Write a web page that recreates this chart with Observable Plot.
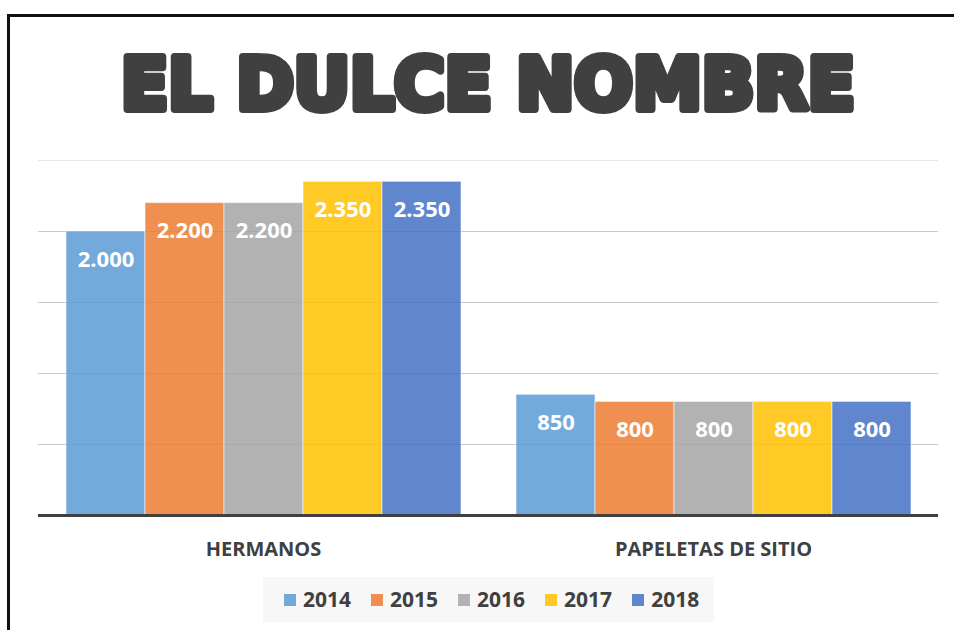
<!DOCTYPE html>
<html>
<head>
<meta charset="utf-8">
<script src="https://cdn.jsdelivr.net/npm/d3@7"></script>
<script src="https://cdn.jsdelivr.net/npm/@observablehq/plot@0.6"></script>
<style>
  html, body { margin: 0; padding: 0; background: #fff; overflow: hidden; }
  #root { position: relative; width: 954px; height: 630px; overflow: hidden; font-family: "Open Sans", sans-serif; }
  #frame { position: absolute; left: 7px; top: 14px; width: 960px; height: 630px; border-left: 3px solid #111; border-top: 3px solid #111; box-sizing: border-box; }
  #title { position: absolute; left: 0; top: 0; }
  #chart { position: absolute; left: 0; top: 130px; }
  #legend { position: absolute; left: 263px; top: 577px; width: 451px; height: 45px; background: #f7f7f7;
            display: flex; align-items: center; padding-left: 21px; box-sizing: border-box; gap: 20px; }
  .item { display: flex; align-items: center; gap: 7px; font-weight: 700; font-size: 21px; color: #404040; line-height: 1; }
  .sw { width: 12px; height: 12px; display: inline-block; }
</style>
</head>
<body>
<div id="root">
  <div id="frame"></div>
  <svg id="title" width="954" height="130">
    <text id="titleText" x="121" y="109" fill="#404040" stroke="#404040" stroke-width="8" stroke-linejoin="round"
          font-family="DejaVu Sans" font-weight="bold" font-size="72" textLength="734" lengthAdjust="spacingAndGlyphs">EL DULCE NOMBRE</text>
  </svg>
  <div id="chart"></div>
  <div id="legend"></div>
</div>
<script>
const categories = ["HERMANOS", "PAPELETAS DE SITIO"];
const years = ["2014", "2015", "2016", "2017", "2018"];
const hermanos = [2000, 2200, 2200, 2350, 2350];
const papeletas = [850, 800, 800, 800, 800];
const colors = ["#5B9BD5", "#ED7D31", "#A5A5A5", "#FFC000", "#4472C4"];
const gridTicks = [500, 1000, 1500, 2000];
const topTick = [2500];

const seriesByCategory = [hermanos, papeletas];
const table = [];
categories.forEach((c, ci) => {
  years.forEach((yr, yi) => table.push({category: c, year: yr, value: seriesByCategory[ci][yi]}));
});

const fmt = d3.formatLocale({decimal: ",", thousands: ".", grouping: [3], currency: ["", "€"]}).format(",");

const chart = Plot.plot({
  width: 954,
  height: 435,
  marginLeft: 38,
  marginRight: 16,
  marginTop: 30,
  marginBottom: 50,
  style: {fontFamily: "Open Sans", fontSize: "20px", fontWeight: "bold", color: "#404040", background: "transparent"},
  fx: {domain: categories, padding: 0, axis: "bottom", tickSize: 0, tickPadding: 26, label: null},
  x: {domain: years, paddingInner: 0, paddingOuter: 0.33, axis: null},
  y: {domain: [0, 2500], axis: null},
  color: {domain: years, range: colors},
  marks: [
    Plot.ruleY(gridTicks, {stroke: "#c8c8c8", strokeWidth: 1.2}),
    Plot.ruleY(topTick, {stroke: "#e6e6e6", strokeWidth: 1.2}),
    Plot.barY(table, {fx: "category", x: "year", y: "value", fill: "year", fillOpacity: 0.85,
                      stroke: "white", strokeOpacity: 0.55, strokeWidth: 1}),
    Plot.text(table, {fx: "category", x: "year", y: "value", text: d => fmt(d.value), dy: 28,
                      fill: "white", fontSize: 22, fontWeight: "bold", fontFamily: "Open Sans"}),
    Plot.ruleY([0], {stroke: "#404040", strokeWidth: 3})
  ]
});
document.getElementById("chart").appendChild(chart);

const legend = document.getElementById("legend");
years.forEach((yr, i) => {
  const it = document.createElement("div");
  it.className = "item";
  const sw = document.createElement("span");
  sw.className = "sw";
  sw.style.background = colors[i];
  sw.style.opacity = 0.85;
  const t = document.createElement("span");
  t.textContent = yr;
  it.appendChild(sw);
  it.appendChild(t);
  legend.appendChild(it);
});
</script>
</body>
</html>
